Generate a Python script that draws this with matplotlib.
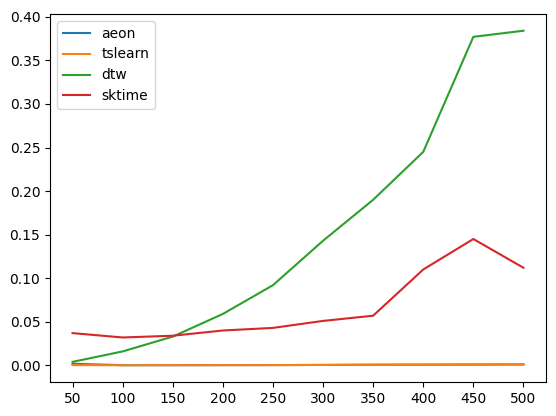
import matplotlib
matplotlib.use('Agg')
import matplotlib.pyplot as plt

sizes = [50, 100, 150, 200, 250, 300, 350, 400, 450, 500]
aeon = [0.0018, 0.0002, 0.0002, 0.0003, 0.0003, 0.0005, 0.0007, 0.0008, 0.0009, 0.0010]
tslearn = [0.0003, 0.0001, 0.0002, 0.0002, 0.0003, 0.0005, 0.0008, 0.0009, 0.0011, 0.0013]
dtw = [0.004, 0.016, 0.033, 0.059, 0.092, 0.143, 0.190, 0.245, 0.377, 0.384]
sktime = [0.037, 0.032, 0.034, 0.040, 0.043, 0.051, 0.057, 0.110, 0.145, 0.112]

fig, ax = plt.subplots(figsize=(5.56, 4.16), dpi=100)
fig.subplots_adjust(left=50/556, right=546/556, top=1-14/416, bottom=1-382/416)
ax.plot(sizes, aeon, label='aeon')
ax.plot(sizes, tslearn, label='tslearn')
ax.plot(sizes, dtw, label='dtw')
ax.plot(sizes, sktime, label='sktime')
ax.set_xticks(sizes)
ax.legend(loc='upper left')
plt.savefig('out.png')
